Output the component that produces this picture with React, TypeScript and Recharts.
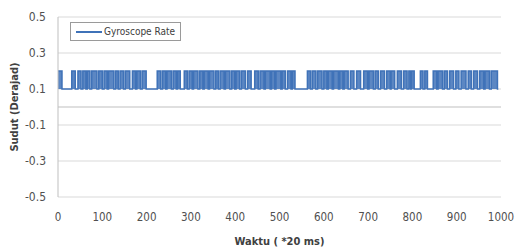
import React from 'react';
import {
  AreaChart,
  Area,
  XAxis,
  YAxis,
  CartesianGrid,
  ReferenceLine,
} from 'recharts';

// blocks (start, end) in samples where the rate sits at the high level
const pulseStarts = [
  0, 31, 45, 56, 66, 76, 92, 104, 114, 130, 140, 152, 168, 178, 190,
  224, 236, 246, 260, 270,
  285, 296, 306, 320, 330, 342, 356, 366, 378, 392, 402, 414, 428,
  444, 456, 468, 482, 492, 506, 518, 529,
  563, 574, 586, 600, 610, 622, 636, 646, 660, 674,
  690, 702, 716, 728, 742, 752, 766, 780, 792, 798,
  818, 828, 847, 858, 872, 884, 898, 910, 926, 938, 952, 964, 978,
];
const pulseEnds = [
  9, 39, 52, 63, 72, 88, 100, 111, 126, 136, 148, 162, 175, 186, 199,
  232, 243, 256, 267, 276,
  292, 303, 316, 327, 339, 352, 362, 375, 388, 399, 410, 423, 436,
  452, 465, 479, 489, 503, 513, 526, 535,
  570, 582, 596, 607, 619, 633, 643, 655, 668, 683,
  699, 712, 723, 737, 750, 760, 775, 788, 796, 804,
  824, 834, 855, 868, 879, 893, 905, 921, 933, 947, 961, 974, 992,
];
const highLevel = 0.2;
const lowLevel = 0.1;
const lastSample = 994;

const xTicks = [0, 100, 200, 300, 400, 500, 600, 700, 800, 900, 1000];
const yTicks = [-0.5, -0.3, -0.1, 0.1, 0.3, 0.5];

const data: { t: number; rate: number }[] = [];
pulseStarts.forEach((s, i) => {
  data.push({ t: s, rate: highLevel });
  data.push({ t: pulseEnds[i], rate: lowLevel });
});
data.push({ t: lastSample, rate: lowLevel });

const FONT = '"DejaVu Sans Condensed", "Liberation Sans Narrow", "Liberation Sans", sans-serif';
const BLUE = '#3f72b8';

const YTitle = (props: any) => {
  const { viewBox } = props;
  const cy = viewBox.y + viewBox.height / 2;
  return (
    <text
      x={14}
      y={cy}
      transform={`rotate(-90, 14, ${cy})`}
      textAnchor="middle"
      dominantBaseline="central"
      fontFamily={FONT}
      fontSize={11}
      fontWeight="bold"
      fill="#404040"
    >
      Sudut (Derajad)
    </text>
  );
};

export default function App() {
  return (
    <div style={{ position: 'absolute', left: 0, top: 0, width: 516, height: 249, background: '#fff' }}>
      <AreaChart
        width={516}
        height={249}
        data={data}
        margin={{ top: 17, right: 15, left: 0, bottom: 0 }}
      >
        <CartesianGrid vertical={false} stroke="#d9d9d9" />
        <XAxis
          dataKey="t"
          type="number"
          domain={[0, 1000]}
          ticks={xTicks}
          height={52}
          axisLine={false}
          tickLine={false}
          tickMargin={10}
          tick={{ fontFamily: FONT, fontSize: 11.5, fill: '#505050' }}
          label={{
            value: 'Waktu ( *20 ms)',
            position: 'insideBottom',
            offset: 4,
            fontFamily: FONT,
            fontSize: 11,
            fontWeight: 'bold',
            fill: '#404040',
          }}
        />
        <YAxis
          type="number"
          domain={[-0.5, 0.5]}
          ticks={yTicks}
          width={58}
          axisLine={{ stroke: '#bfbfbf' }}
          tickLine={false}
          tickMargin={6}
          tick={{ fontFamily: FONT, fontSize: 12, fill: '#505050' }}
          tickFormatter={(v: number) => v.toFixed(1)}
          label={<YTitle />}
        />
        <ReferenceLine y={0} stroke="#bfbfbf" />
        <Area
          type="stepAfter"
          dataKey="rate"
          baseValue={lowLevel}
          stroke={BLUE}
          strokeWidth={1.5}
          fill={BLUE}
          fillOpacity={0.85}
          isAnimationActive={false}
        />
      </AreaChart>
      <div
        style={{
          position: 'absolute',
          left: 70,
          top: 22,
          border: '1px solid #9a9a9a',
          background: '#fff',
          padding: '3px 5px',
          display: 'flex',
          alignItems: 'center',
          fontFamily: FONT,
          fontSize: 10,
          color: '#404040',
          whiteSpace: 'nowrap',
        }}
      >
        <span style={{ display: 'inline-block', width: 26, height: 2, background: BLUE, marginRight: 2 }} />
        Gyroscope Rate
      </div>
    </div>
  );
}
